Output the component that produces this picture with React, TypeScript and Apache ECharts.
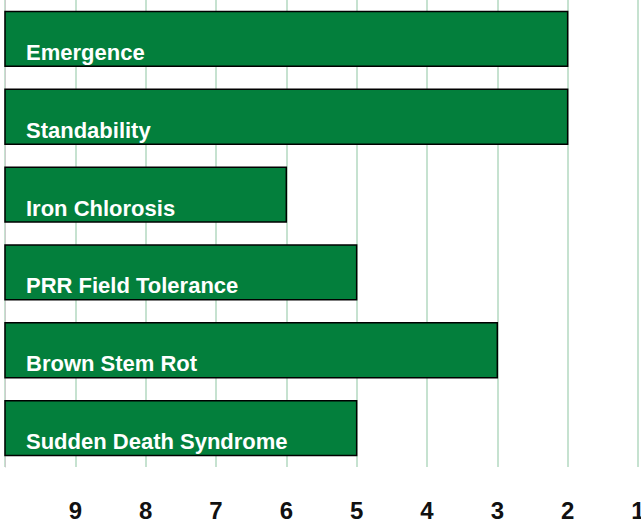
import React, { useEffect, useRef } from "react";
import * as echarts from "echarts";

const categories = [
  "Emergence",
  "Standability",
  "Iron Chlorosis",
  "PRR Field Tolerance",
  "Brown Stem Rot",
  "Sudden Death Syndrome",
];
const scores = [2, 2, 6, 5, 3, 5];
const scaleStart = 10;
const scaleEnd = 1;

export default function App() {
  const ref = useRef<HTMLDivElement>(null);
  useEffect(() => {
    if (!ref.current) return;
    const chart = echarts.init(ref.current, null, { renderer: "svg" });
    const data = scores.map((v, i) => [v, i]);
    chart.setOption({
      animation: false,
      grid: { left: 5, right: 3, top: 0, bottom: 55, containLabel: false, outerBoundsMode: "none" },
      xAxis: {
        type: "value",
        min: scaleEnd,
        max: scaleStart,
        interval: 1,
        inverse: true,
        axisLine: { show: false },
        axisTick: { show: false },
        splitLine: { show: true, lineStyle: { color: "#b3d8c0", width: 1.5 } },
        axisLabel: {
          color: "#111",
          fontFamily: "Liberation Sans",
          fontWeight: "bold",
          fontSize: 24,
          margin: 31,
          hideOverlap: false,
          formatter: (v: number) => (v === scaleStart ? "" : String(v)),
        },
      },
      yAxis: {
        type: "category",
        data: categories,
        inverse: true,
        axisLine: { show: true, lineStyle: { color: "#cccccc", width: 1 } },
        axisTick: { show: false },
        axisLabel: { show: false },
        splitLine: { show: false },
      },
      series: [
        {
          type: "custom",
          data,
          encode: { x: 0, y: 1 },
          renderItem: (params: any, api: any) => {
            const v = api.value(0);
            const idx = api.value(1);
            const start = api.coord([scaleStart, idx]);
            const end = api.coord([v, idx]);
            const bandH = api.size([0, 1])[1];
            const h = bandH * 0.705;
            const x0 = Math.min(start[0], end[0]);
            const w = Math.abs(end[0] - start[0]);
            const y0 = start[1] - h / 2;
            return {
              type: "group",
              children: [
                {
                  type: "rect",
                  shape: { x: x0, y: y0, width: w, height: h },
                  style: { fill: "#037f3c", stroke: "#000", lineWidth: 1.5 },
                },
                {
                  type: "text",
                  x: x0 + 21,
                  y: y0 + h - 3,
                  style: {
                    text: categories[idx],
                    fill: "#fff",
                    fontFamily: "Liberation Sans",
                    fontWeight: "bold",
                    fontSize: 22,
                    align: "left",
                    verticalAlign: "bottom",
                  },
                },
              ],
            };
          },
        },
      ],
    });
    return () => chart.dispose();
  }, []);
  return <div ref={ref} style={{ width: 641, height: 522, position: "absolute", left: 0, top: 0 }} />;
}
